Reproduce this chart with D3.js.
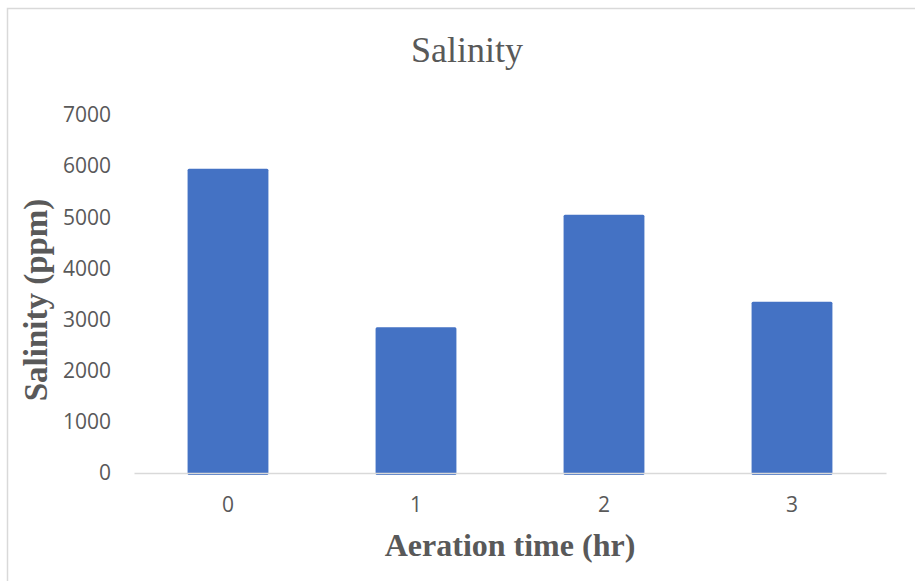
<!DOCTYPE html>
<html>
<head>
<meta charset="utf-8">
<script src="https://cdn.jsdelivr.net/npm/d3@7"></script>
<style>
  body { margin: 0; background: #fff; }
  .tick text { font-family: "Open Sans", sans-serif; font-size: 21px; fill: #595959; }
  .serif { font-family: "Liberation Serif", "Times New Roman", serif; fill: #595959; }
</style>
</head>
<body>
<div id="chart"></div>
<script>
// values
var hours = ["0", "1", "2", "3"];
var salinity = [5950, 2850, 5050, 3350];
var yTicks = [0, 1000, 2000, 3000, 4000, 5000, 6000, 7000];

var width = 915, height = 581;
var margin = {top: 115, right: 29, bottom: 108, left: 134};
var plotW = width - margin.left - margin.right,
    plotH = height - margin.top - margin.bottom;

var svg = d3.select("#chart").append("svg")
  .attr("width", width)
  .attr("height", height);

// chart border (only top and left edges show in the picture)
svg.append("path")
  .attr("d", "M7.5," + height + "V8.5H" + width)
  .attr("fill", "none")
  .attr("stroke", "#d9d9d9")
  .attr("stroke-width", 1.5);

var g = svg.append("g")
  .attr("transform", "translate(" + margin.left + "," + margin.top + ")");

var x = d3.scaleBand()
  .domain(hours)
  .range([0, plotW])
  .paddingInner(0.57)
  .paddingOuter(0.285);

var y = d3.scaleLinear()
  .domain([0, 7000])
  .range([plotH, 0]);

// bars
g.selectAll(".bar")
  .data(salinity)
  .enter().append("rect")
  .attr("class", "bar")
  .attr("x", function(d, i) { return x(hours[i]); })
  .attr("y", function(d) { return y(d); })
  .attr("width", x.bandwidth())
  .attr("height", function(d) { return y(0) - y(d) + 2; })
  .attr("rx", 1.5)
  .attr("fill", "#4472c4");

// y axis, labels only
var yAxis = g.append("g")
  .call(d3.axisLeft(y).tickValues(yTicks).tickSize(0).tickPadding(23).tickFormat(d3.format("d")));
yAxis.select(".domain").remove();

// x axis
var xAxis = g.append("g")
  .attr("transform", "translate(0," + plotH + ")")
  .call(d3.axisBottom(x).tickSize(0).tickPadding(24));
xAxis.select(".domain")
  .attr("stroke", "#d9d9d9")
  .attr("stroke-width", 1.5);

// title
svg.append("text")
  .attr("class", "serif")
  .attr("x", 467)
  .attr("y", 62)
  .attr("text-anchor", "middle")
  .style("font-size", "36px")
  .text("Salinity");

// x label
svg.append("text")
  .attr("class", "serif")
  .attr("x", margin.left + plotW / 2)
  .attr("y", 556)
  .attr("text-anchor", "middle")
  .style("font-size", "32px")
  .style("font-weight", "bold")
  .text("Aeration time (hr)");

// y label
svg.append("text")
  .attr("class", "serif")
  .attr("transform", "translate(47," + 300 + ") rotate(-90)")
  .attr("text-anchor", "middle")
  .style("font-size", "33px")
  .style("font-weight", "bold")
  .text("Salinity (ppm)");
</script>
</body>
</html>
